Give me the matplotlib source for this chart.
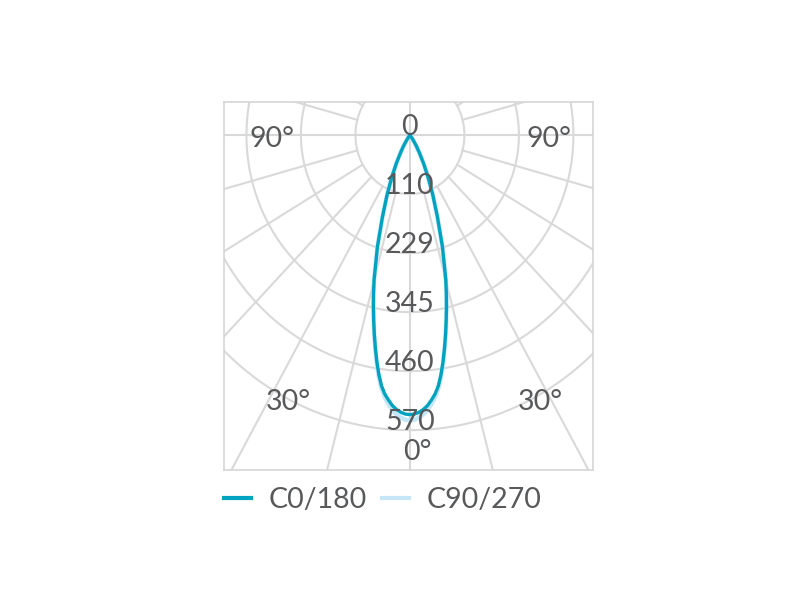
import numpy as np
import matplotlib
matplotlib.use("Agg")
import matplotlib.pyplot as plt
from matplotlib.lines import Line2D

# ---- data ----
angles_deg = [0, 1, 2, 3, 4, 5, 6, 7, 8, 9, 10, 11, 12, 13, 14, 15, 17.5, 20, 22.5,
              25, 27.5, 30, 32.5, 35, 37.5, 40, 45, 60, 75, 90]
c0_180 = [540, 539, 536, 531, 524, 514, 503, 488, 467, 443, 417, 391, 365, 340, 315,
          290, 226, 168, 125, 90, 62, 40, 25, 12, 5, 0, 0, 0, 0, 0]
c90_270 = [551, 550, 546, 540, 532, 521, 508, 492, 470, 445, 418, 392, 365, 340, 315,
           290, 226, 168, 125, 90, 62, 40, 25, 12, 5, 0, 0, 0, 0, 0]
ring_values = [0, 114, 228, 342, 456, 570]
ring_labels = ["0", "110", "229", "345", "460", "570"]
series_names = ["C0/180", "C90/270"]
series_colors = ["#00a3bf", "#c4e6f7"]

FONT = ["Lato", "DejaVu Sans"]
TXT = "#58595b"
GRID = "#d9d9d9"
FS = 20.5

fig = plt.figure(figsize=(8, 6), dpi=100)
ax = fig.add_axes([224 / 800, 130 / 600, 369 / 800, 368 / 600])
ax.set_xlim(-389, 383)
ax.set_ylim(-647, 64)
ax.set_aspect("auto")
ax.set_xticks([])
ax.set_yticks([])
for s in ax.spines.values():
    s.set_color("#d6d6d6")
    s.set_linewidth(1.2)


def to_xy(theta_deg, r):
    t = np.radians(np.asarray(theta_deg, float))
    r = np.asarray(r, float)
    return r * np.sin(t), -r * np.cos(t)


# grid rings
tt = np.linspace(0, 360, 721)
for rv in ring_values[1:]:
    x, y = to_xy(tt, np.full_like(tt, rv))
    ax.plot(x, y, color=GRID, lw=1.5, zorder=1)
# spokes
BIG = 3000
for a in range(15, 180, 15):
    if a == 90:
        continue
    for sgn in (1, -1):
        x, y = to_xy([sgn * a, sgn * a], [ring_values[1], BIG])
        ax.plot(x, y, color=GRID, lw=1.5, zorder=1)
ax.plot([0, 0], [-BIG, BIG], color=GRID, lw=1.5, zorder=1)
ax.plot([-BIG, BIG], [0, 0], color=GRID, lw=1.5, zorder=1)


def full_curve(vals):
    a = np.asarray(angles_deg, float)
    v = np.asarray(vals, float)
    th = np.concatenate([-a[::-1], a[1:]])
    rr = np.concatenate([v[::-1], v[1:]])
    return to_xy(th, rr)


x90, y90 = full_curve(c90_270)
ax.plot(x90, y90, color=series_colors[1], lw=3.2, zorder=3, solid_joinstyle="round")
x0, y0 = full_curve(c0_180)
ax.plot(x0, y0, color=series_colors[0], lw=2.4, zorder=4, solid_joinstyle="round")

# radial labels
for rv, lab in zip(ring_values, ring_labels):
    ax.text(0, -rv, lab, ha="center", va="baseline", fontsize=FS, color=TXT,
            family=FONT, zorder=6)

# angle labels (pixel positions converted to data)
def px2data(px, py):
    return (px - 410) * 114 / 54.5, -(py - 135) * 114 / 59

for lab, px, py in [("90°", 272, 147), ("90°", 549, 147), ("30°", 288, 410),
                    ("30°", 540, 410), ("0°", 417, 460)]:
    x, y = px2data(px, py)
    ax.text(x, y, lab, ha="center", va="baseline", fontsize=FS, color=TXT,
            family=FONT, zorder=6)

handles = [Line2D([], [], color=series_colors[0], lw=3),
           Line2D([], [], color=series_colors[1], lw=3)]
leg = ax.legend(handles, series_names, loc="upper left", bbox_to_anchor=(0, -0.045),
                ncol=2, frameon=False, handlelength=0.95, handletextpad=0.6,
                columnspacing=0.55, borderpad=0, borderaxespad=0,
                prop={"family": FONT, "size": FS})
for t in leg.get_texts():
    t.set_color(TXT)

fig.savefig("out.png", dpi=100)
